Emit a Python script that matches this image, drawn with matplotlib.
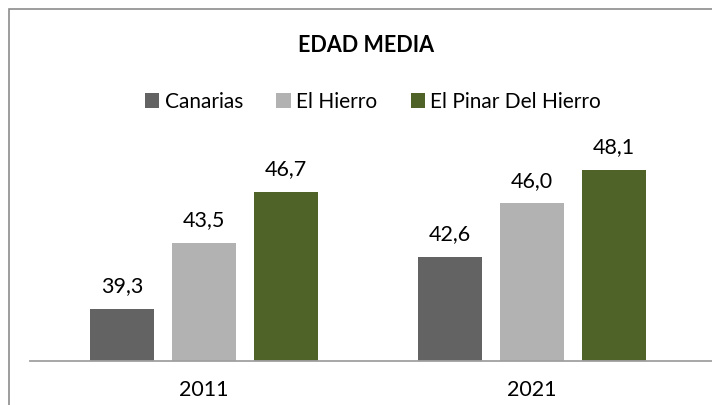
import matplotlib.pyplot as plt
import numpy as np
from matplotlib.patches import Rectangle

plt.rcParams['font.family'] = ['Lato', 'DejaVu Sans']

years = ['2011', '2021']
series_names = ['Canarias', 'El Hierro', 'El Pinar Del Hierro']
canarias = [39.3, 42.6]
el_hierro = [43.5, 46.0]
el_pinar = [46.7, 48.1]

COLORS = ['#636363', '#b2b2b2', '#4f6228']

W, H = 712, 405
fig = plt.figure(figsize=(W / 100, H / 100), dpi=100, facecolor='white')
ax = fig.add_axes([30 / W, (H - 361) / H, 1 - 30 / W, (361 - 140) / H])

x = np.arange(len(years))
width = 0.198
offset = 0.25
for i, (name, vals) in enumerate(zip(series_names, [canarias, el_hierro, el_pinar])):
    bars = ax.bar(x + (i - 1) * offset, vals, width, color=COLORS[i], label=name)
    ax.bar_label(bars, labels=[f"{v:.1f}".replace('.', ',') for v in vals],
                 padding=9, fontsize=15.5, color='#000000')

ax.set_ylim(36, 50)
ax.set_xlim(-(204 - 30) / 328, (712 - 204) / 328)
ax.set_xticks(x)
ax.set_xticklabels(years, fontsize=15.5)
ax.tick_params(axis='x', length=0, pad=14)
ax.set_yticks([])
for s in ['top', 'right', 'left']:
    ax.spines[s].set_visible(False)
ax.spines['bottom'].set_color('#a0a0a0')
ax.spines['bottom'].set_linewidth(1.3)

fig.text(366 / W, 1 - 46 / H, 'EDAD MEDIA', ha='center', va='center',
         fontsize=15.5, fontweight='bold')

fig.legend(loc='center', bbox_to_anchor=(373 / W, 1 - 102 / H), ncol=3,
           frameon=False, fontsize=15, handlelength=0.7, handleheight=0.7,
           handletextpad=0.25, columnspacing=1.6)

# outer chart border (cut off on right and bottom)
fig.add_artist(Rectangle((8.5 / W, -0.1), 1.2, 1.1 - 8.5 / H,
                         transform=fig.transFigure, fill=False,
                         edgecolor='#8c8c8c', linewidth=1.2))

fig.savefig('out.png', dpi=100, facecolor='white')
